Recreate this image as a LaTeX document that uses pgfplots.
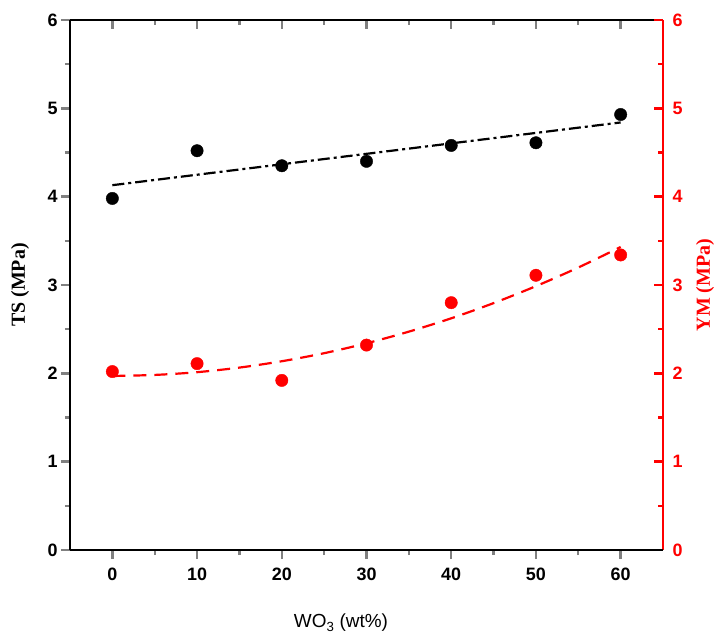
\documentclass[border=0pt]{standalone}
\usepackage{pgfplots}
\pgfplotsset{compat=1.18}
\usepackage{fontspec}
\setmainfont{Liberation Sans}
\newfontfamily\timesfont{Liberation Serif}
\definecolor{myred}{RGB}{255,0,0}
\pgfplotsset{
  every non boxed x axis/.append style={x axis line style=-},
  every non boxed y axis/.append style={y axis line style=-},
}
\pgfplotsset{myax/.style={
  width=593bp, height=530bp, scale only axis,
  xmin=-5, xmax=65, ymin=0, ymax=6,
  xtick={0,10,...,60}, ytick={0,1,...,6},
  minor x tick num=1, minor y tick num=1,
  major tick length=9bp, minor tick length=5bp,
  every tick/.append style={line width=2.4bp},
  every minor tick/.append style={line width=2.4bp},
  axis line style={line width=2.6bp},
  /pgf/number format/assume math mode=true,
  ticklabel style={font=\bfseries\fontsize{18}{18}\selectfont},
  clip=false,
}}
\begin{document}
\begin{tikzpicture}
% top axis (inward ticks)
\begin{axis}[myax, axis x line=top, axis y line=none, tick align=inside, xticklabels={}]
\end{axis}
% right axis (red)
\begin{axis}[myax, axis x line=none, axis y line=right, tick align=inside,
  y axis line style={myred}, y tick style={myred}, minor y tick style={myred},
  yticklabel style={myred, xshift=6bp},
  ylabel={\timesfont\bfseries\fontsize{20}{20}\selectfont YM (MPa)},
  ylabel style={myred, rotate=0, at={(axis description cs:1.0708,0.5)}, anchor=center},
]
\end{axis}
% main axis
\begin{axis}[myax, axis x line=bottom, axis y line=left, tick align=outside,
  xticklabel style={yshift=-5bp},
  ylabel={\timesfont\bfseries\fontsize{20}{20}\selectfont TS (MPa)},
  ylabel style={at={(axis description cs:-0.0843,0.5)}, anchor=center},
  xlabel={\fontsize{19}{19}\selectfont WO\textsubscript{3} (wt\%)},
  xlabel style={at={(axis description cs:0.457,-0.1377)}, anchor=center},
]
\addplot[only marks, mark=*, mark size=6.2bp, black] coordinates {
(0,3.98) (10,4.52) (20,4.35) (30,4.40) (40,4.58) (50,4.61) (60,4.93)};
\addplot[black, line width=2.2bp, dash pattern=on 12bp off 4bp on 3bp off 4bp] coordinates {
(0,4.13) (60,4.84)};
\addplot[only marks, mark=*, mark size=6.2bp, myred] coordinates {
(0,2.02) (10,2.11) (20,1.92) (30,2.32) (40,2.80) (50,3.11) (60,3.34)};
\addplot[myred, line width=2.2bp, dash pattern=on 13bp off 8bp, smooth] coordinates {
(0,1.970) (5,1.982) (10,2.013) (15,2.065) (20,2.137) (25,2.228) (30,2.340) (35,2.472) (40,2.623) (45,2.795) (50,2.987) (55,3.198) (60,3.430)};
\path (rel axis cs:0,0) ++(-70bp,-93bp) (rel axis cs:1,1) ++(64bp,20bp);
\end{axis}
\end{tikzpicture}
\end{document}
